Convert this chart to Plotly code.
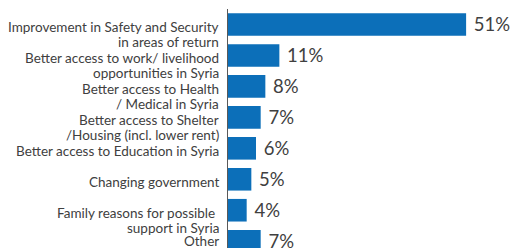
import plotly.graph_objects as go

categories = [
    "Improvement in Safety and Security<br>in areas of return",
    "Better access to work/ livelihood<br>opportunities in Syria",
    "Better access to Health<br>/ Medical in Syria",
    "Better access to Shelter<br>/Housing (incl. lower rent)",
    "Better access to Education in Syria",
    "Changing government",
    "Family reasons for possible&nbsp;<br>support in Syria",
    "Other",
]
values = [51, 11, 8, 7, 6, 5, 4, 7]
value_labels = [f"\u00a0{v}%" for v in values]

BLUE = "#0C6FB9"
TEXT = "#404040"
FONT = "Lato, 'Open Sans', sans-serif"
LABEL_SIZE = 13.5
LINE_STEP = 14.5   # px between label lines
FIRST_DROP = 3     # first line sits slightly below bar centre

fig = go.Figure(
    go.Bar(
        x=values,
        y=categories,
        orientation="h",
        marker=dict(color=BLUE, line=dict(width=0)),
        text=value_labels,
        textposition="outside",
        textfont=dict(family=FONT, size=18.5, color=TEXT),
        cliponaxis=False,
        hoverinfo="skip",
    )
)

for k, cat in enumerate(categories):
    lines = cat.split("<br>")
    drop = 0 if k == len(categories) - 1 else FIRST_DROP
    for i, line in enumerate(lines):
        fig.add_annotation(
            x=0, xref="paper", xanchor="right", xshift=-8,
            y=cat, yref="y", yanchor="middle",
            yshift=-(drop + LINE_STEP * i),
            text=line, showarrow=False, align="right",
            font=dict(family=FONT, size=LABEL_SIZE, color=TEXT),
            borderpad=0,
        )

fig.update_layout(
    width=510, height=248,
    margin=dict(l=228, r=0, t=9, b=0),
    paper_bgcolor="white", plot_bgcolor="white",
    bargap=0.27,
    showlegend=False,
    font=dict(family=FONT, color=TEXT),
)
fig.update_xaxes(range=[0, 60.4], visible=False, fixedrange=True)
fig.update_yaxes(
    range=[7.22, -0.5],
    showticklabels=False, ticks="",
    showgrid=False, zeroline=False,
    showline=True, linecolor="#595959", linewidth=1,
    fixedrange=True,
)

fig.write_html(
    "out.html",
    config={"displayModeBar": False},
    post_script="document.body.style.margin='0';document.body.style.padding='0';",
)
